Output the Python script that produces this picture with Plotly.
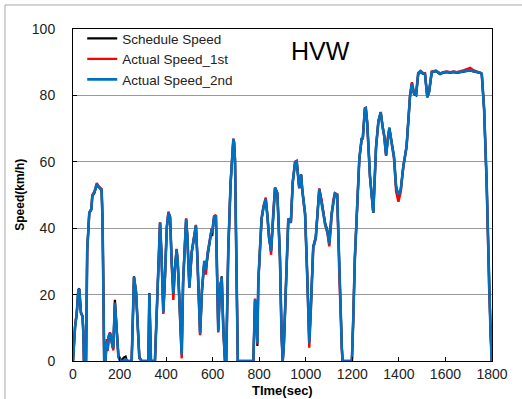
import plotly.graph_objects as go

time_s = [0, 9, 16, 23, 27, 34, 41, 45, 47, 56, 61, 66, 70, 76, 79, 83, 92, 102, 108, 113, 123, 127, 131, 134,
          139, 145, 149, 153, 159, 164, 169, 173, 180, 188, 195, 202, 208, 218, 226, 232, 252, 257, 262, 271,
          278, 285, 295, 324, 328, 335, 352, 362, 369, 374, 380, 388, 395, 403, 410, 417, 424, 431, 438, 445,
          450, 460, 467, 473, 480, 486, 491, 500, 510, 520, 528, 534, 540, 546, 554, 564, 571, 578, 589, 596,
          598, 606, 614, 619, 624, 631, 639, 646, 653, 658, 667, 677, 686, 689, 692, 696, 702, 708, 775, 782,
          786, 792, 796, 803, 810, 818, 828, 835, 842, 851, 860, 868, 878, 889, 896, 901, 906, 911, 918, 925,
          936, 944, 954, 961, 972, 980, 985, 997, 1007, 1015, 1022, 1032, 1043, 1050, 1058, 1068, 1075, 1083,
          1093, 1101, 1111, 1118, 1125, 1135, 1144, 1150, 1155, 1158, 1198, 1204, 1211, 1221, 1230, 1240, 1245,
          1254, 1258, 1264, 1276, 1290, 1302, 1312, 1322, 1330, 1337, 1345, 1352, 1359, 1371, 1379, 1388, 1398,
          1408, 1419, 1433, 1441, 1448, 1456, 1465, 1474, 1483, 1493, 1503, 1512, 1522, 1530, 1541, 1559, 1577,
          1590, 1605, 1620, 1635, 1650, 1663, 1680, 1695, 1706, 1720, 1734, 1748, 1756, 1766, 1777, 1787, 1794,
          1799]

schedule_speed = [0, 10.4, 14, 21.5, 21.8, 14.4, 13.6, 8, 0, 0, 33.5, 42, 44.6, 45.2, 45.6, 49.6, 50.6, 53, 52.5,
                  52, 51.5, 42.6, 20, 0,
                  0, 5.5, 3.3, 7, 8.4, 7, 4.5, 3.8, 18.4, 7.3, 1.8, 0.8, 0, 1, 1.3, 0, 0, 12, 25.5, 20.5,
                  8.4, 1.3, 0, 0, 20.5, 0, 0, 18.4, 33.5, 41.6, 32.6, 14.9, 25, 40, 44.6, 43.6, 30, 21.5, 28, 33.5,
                  30, 10.4, 2.5, 24, 35, 42.6, 38, 22.5, 32.6, 38, 40.6, 32, 17, 8.4, 21, 30, 28, 32, 36.6, 39.6,
                  37.6, 43.1, 43.6, 25, 9.4, 21.5, 25.5, 9.4, 0, 0, 33.5, 53.7, 61.7, 66.8, 66, 60.7, 30, 0, 0, 18.4,
                  16, 4.5, 23.5, 35, 42.6, 46, 48.6, 44, 37, 33, 44, 52.2, 50.6, 31.5, 8, 0, 5, 16.4, 30, 42.6,
                  42, 53.7, 59.7, 60, 52.2, 56.2, 51.7, 44.6, 24.5, 6, 16.4, 34.5, 37.5, 45, 51.7, 48.1, 45, 41.6,
                  39.3, 35.5, 44.6, 48, 50.2, 50, 26.5, 12, 4, 0, 0, 12.4, 31, 46.6, 60.7, 66.8, 67,
                  75.8, 76, 71.8, 55.7, 44.6, 64.7, 72.3, 74.8, 70.8, 68, 62.2, 67, 70.3, 65, 61.7, 52.7, 49.6,
                  51.7, 58.7, 64.7, 72, 79.8, 83.4, 80.4, 80, 86.4, 87.1, 86.5, 86.4, 79.4, 81, 86.9, 87.3, 86.4,
                  86.8, 87, 86.8, 87, 86.8, 87, 87.2, 87.3, 87.5, 87.2, 87, 86.8, 86.4, 75.8, 53.7, 23.5, 8,
                  0]

actual_speed_1st = [0, 10.8, 14.5, 21.2, 21.6, 14.8, 13.2, 7.5, 0, 0, 33, 42.5, 44.8, 45.5, 46, 50, 51, 53.6, 53,
                    52.4, 51.8, 42, 19, 0,
                    0, 6.6, 3, 7.5, 8.6, 6.8, 4.2, 3.2, 17.6, 6.8, 1.2, 0.3, 0, 0, 0.4, 0, 0, 12.5, 25.2, 20.8,
                    8, 0.8, 0, 0, 20.2, 0, 0, 18.8, 34, 41.8, 32, 14.2, 25.5, 40.5, 45, 43.2, 29, 18.4, 27.5, 33.8,
                    29.5, 9.5, 0.8, 23.5, 35.5, 43, 37.6, 22, 33, 38.4, 41, 31.5, 16.5, 7.8, 21.5, 29.5, 26, 32.5,
                    37, 40, 38.8, 43.6, 44, 24, 8.6, 21.8, 25, 9, 0, 0, 33, 53.4, 62, 67, 65.6, 60.2, 29, 0, 0,
                    18.8, 16.5, 5, 24, 35.5, 43, 46.5, 49.2, 43.6, 37.5, 32, 44.5, 52, 50.2, 31, 7.5, 0, 5.5, 16,
                    30.5, 43, 41.6, 54, 60, 60.3, 52, 56, 51.2, 44, 24, 4, 16, 34, 36.8, 45.5, 52, 48.4, 44.5, 41,
                    38.6, 34.5, 43.5, 48.4, 50.6, 50.2, 26, 11.5, 3.5, 0, 0, 12.8, 31.5, 47, 61, 67, 67.3,
                    76.2, 76.3, 71.5, 55.2, 44.8, 64.4, 72, 75, 70.4, 67.6, 61.8, 67.3, 70, 64.6, 61, 51, 48,
                    51, 58.4, 64.4, 72.3, 80.2, 84, 80.8, 80.4, 86.8, 87.4, 86.8, 86.7, 79.8, 81.4, 87.2, 87.5, 86.6,
                    87, 87.2, 87, 87.2, 87, 87.2, 87.6, 88, 88.3, 87.6, 87.2, 87, 86.6, 76.2, 54, 23, 7.5,
                    0]

actual_speed_2nd = [0, 10.2, 14.2, 21.4, 21.6, 14.6, 13.4, 7.8, 0, 0, 33.2, 42.2, 44.6, 45.3, 45.8, 49.8, 50.8,
                    53.2, 52.6, 52.1, 51.4, 42.3, 19.5, 0,
                    0, 5.8, 3.5, 7.2, 8.4, 7.1, 4.6, 3.9, 17.4, 7, 1.4, 0, 0, 0, 0.5, 0, 0, 12.2, 25.3, 20.6,
                    8.2, 1, 0, 0, 20.3, 0, 0, 18.6, 33.7, 41.7, 32.4, 14.6, 25.2, 40.2, 44.7, 43.4, 29.6, 20.5, 27.8,
                    33.6, 29.8, 10, 2, 23.8, 35.2, 42.8, 37.8, 22.2, 32.8, 38.2, 40.8, 31.8, 16.8, 8.2, 21.2, 30.2,
                    27.5, 32.2, 36.8, 39.8, 38.6, 43.4, 43.8, 24.6, 9, 21.6, 25.2, 9.2, 0, 0, 33.2, 53.6, 61.8, 66.9,
                    65.8, 60.5, 29.5, 0, 0, 18.5, 16.3, 5.5, 23.8, 35.2, 42.8, 46.2, 48.8, 43.8, 37.2, 33.2, 44.2,
                    52.3, 50.5, 31.2, 7.8, 0, 5.2, 16.2, 30.2, 42.8, 41.8, 53.8, 59.8, 60.1, 52.1, 56.1, 51.5, 44.3,
                    24.2, 5.5, 16.2, 34.2, 37.2, 45.2, 51.8, 47.3, 44.8, 41.4, 39, 35.2, 44.2, 48.2, 50.4, 50.1, 26.2,
                    11.8, 3.8, 0, 0, 12.6, 31.2, 46.8, 60.8, 66.9, 67.1, 75.9, 76.1, 71.7, 55.5, 44.7, 64.6, 72.2,
                    74.9, 70.6, 67.8, 62, 67.1, 70.2, 64.8, 61.5, 52.5, 50, 51.6, 58.6, 64.6, 72.1, 79.9, 83.6, 80.6,
                    80.2, 86.6, 87.2, 86.6, 86.5, 79.5, 81.2, 87, 87.3, 86.6, 86.9, 87.1, 86.9, 87.1, 86.9, 87.1,
                    87.3, 87.4, 87.6, 87.3, 87.1, 86.9, 86.5, 75.9, 53.8, 23.4, 7.8,
                    0]

x_ticks = [0, 200, 400, 600, 800, 1000, 1200, 1400, 1600, 1800]
y_ticks = [0, 20, 40, 60, 80, 100]

FONT = "Liberation Sans, Arial, sans-serif"

fig = go.Figure()
fig.add_trace(go.Scatter(x=time_s, y=schedule_speed, mode="lines", name="Schedule Speed",
                         line=dict(color="#000000", width=2.2)))
fig.add_trace(go.Scatter(x=time_s, y=actual_speed_1st, mode="lines", name="Actual Speed_1st",
                         line=dict(color="#ff0000", width=2.4)))
fig.add_trace(go.Scatter(x=time_s, y=actual_speed_2nd, mode="lines", name="Actual Speed_2nd",
                         line=dict(color="#0070c0", width=2.6)))

fig.update_layout(
    width=522, height=399,
    margin=dict(l=73, r=30, t=29, b=38),
    paper_bgcolor="white", plot_bgcolor="white",
    font=dict(family=FONT, size=13, color="#222222"),
    showlegend=True,
    legend=dict(x=0.022, y=1.018, xanchor="left", yanchor="top", bgcolor="rgba(0,0,0,0)",
                font=dict(family=FONT, size=13.5, color="#222222"), tracegroupgap=0,
                traceorder="normal"),
    xaxis=dict(range=[0, 1800], tickvals=x_ticks, ticks="inside", ticklen=4, tickcolor="#000",
               showline=True, linecolor="#000", linewidth=1, mirror=True, showgrid=False,
               zeroline=False, tickfont=dict(family=FONT, size=14, color="#222")),
    yaxis=dict(range=[0, 100], tickvals=y_ticks, ticks="inside", ticklen=4, tickcolor="#000",
               showline=True, linecolor="#000", linewidth=1, mirror=True, showgrid=True,
               gridcolor="#9a9a9a", gridwidth=1, zeroline=False, ticklabelstandoff=14,
               tickfont=dict(family=FONT, size=14, color="#222")),
    annotations=[
        dict(text="HVW", x=0.59, y=0.933, xref="paper", yref="paper", showarrow=False,
             xanchor="center", yanchor="middle", font=dict(family=FONT, size=25, color="#000")),
        dict(text="<b>TIme(sec)</b>", x=0.5, y=-0.088, xref="paper", yref="paper", showarrow=False,
             xanchor="center", yanchor="middle", font=dict(family=FONT, size=13, color="#000")),
        dict(text="<b>Speed(km/h)</b>", x=-0.127, y=0.5, xref="paper", yref="paper", showarrow=False,
             xanchor="center", yanchor="middle", textangle=-90, font=dict(family=FONT, size=12, color="#000")),
    ],
    shapes=[
        dict(type="line", xref="paper", yref="paper", x0=-0.1623, y0=1.0723, x1=1.3, y1=1.0723,
             line=dict(color="#a8a8a8", width=1)),
        dict(type="line", xref="paper", yref="paper", x0=-0.1623, y0=1.0723, x1=-0.1623, y1=-0.2,
             line=dict(color="#a8a8a8", width=1)),
    ],
)

fig.write_html("out.html")
